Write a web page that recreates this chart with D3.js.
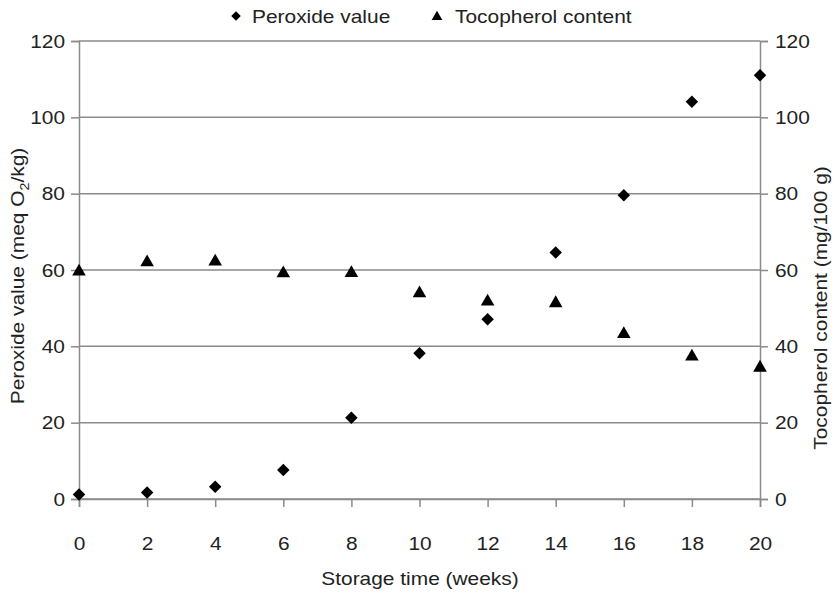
<!DOCTYPE html>
<html>
<head>
<meta charset="utf-8">
<script src="https://cdn.jsdelivr.net/npm/d3@7"></script>
<style>
  html, body { margin: 0; padding: 0; background: #fff; }
  svg { display: block; font-family: "Liberation Sans", Arial, sans-serif; }
</style>
</head>
<body>
<svg id="chart" width="839" height="595"></svg>
<script>
// Storage time in weeks
const weeks = [0, 2, 4, 6, 8, 10, 12, 14, 16, 18, 20];
// Peroxide value (meq O2/kg)
const peroxide = [1.2, 1.7, 3.2, 7.6, 21.3, 38.2, 47.1, 64.6, 79.6, 104.1, 111.0];
// Tocopherol content (mg/100 g)
const tocopherol = [59.6, 62.0, 62.2, 59.1, 59.2, 53.9, 51.7, 51.3, 43.2, 37.3, 34.4];
// Axis ticks
const xTicks = [0, 2, 4, 6, 8, 10, 12, 14, 16, 18, 20];
const yTicks = [0, 20, 40, 60, 80, 100, 120];

const svg = d3.select("#chart");
const plotL = 79, plotR = 760, plotT = 41, plotB = 499;
const textColor = "#222", lineColor = "#8a8a8a", fs = 19;

const x = d3.scaleLinear().domain([0, 20]).range([plotL, plotR]);
const yL = d3.scaleLinear().domain([0, 120]).range([plotB, plotT]);
const yR = d3.scaleLinear().domain([0, 120]).range([plotB, plotT]);

// Horizontal gridlines
svg.append("g").selectAll("line").data(yTicks).join("line")
  .attr("x1", plotL).attr("x2", plotR)
  .attr("y1", d => yL(d)).attr("y2", d => yL(d))
  .attr("stroke", lineColor).attr("stroke-width", 1.5);

function styleAxis(g) {
  g.select(".domain").attr("stroke", lineColor).attr("stroke-width", 1.5);
  g.selectAll(".tick line").attr("stroke", lineColor).attr("stroke-width", 1.5);
  g.selectAll(".tick text").attr("fill", textColor)
    .style("font-size", fs + "px").style("font-family", "Liberation Sans, Arial, sans-serif");
}

svg.append("g").attr("transform", `translate(0,${plotB})`)
  .call(d3.axisBottom(x).tickValues(xTicks).tickSizeOuter(0).tickSize(8).tickPadding(30))
  .call(styleAxis);

svg.append("g").attr("transform", `translate(${plotL},0)`)
  .call(d3.axisLeft(yL).tickValues(yTicks).tickSizeOuter(0).tickSize(8).tickPadding(6))
  .call(styleAxis);

svg.append("g").attr("transform", `translate(${plotR},0)`)
  .call(d3.axisRight(yR).tickValues(yTicks).tickSizeOuter(0).tickSize(8).tickPadding(7))
  .call(styleAxis);

// Markers
const diamond = d3.symbol().type(d3.symbolSquare).size(78);
const triangle = d3.symbol().type(d3.symbolTriangle).size(80);

svg.append("g").selectAll("path").data(weeks.map((w, i) => [w, tocopherol[i]])).join("path")
  .attr("d", triangle)
  .attr("transform", d => `translate(${x(d[0])},${yR(d[1])})`)
  .attr("fill", "#000");

svg.append("g").selectAll("path").data(weeks.map((w, i) => [w, peroxide[i]])).join("path")
  .attr("d", diamond)
  .attr("transform", d => `translate(${x(d[0])},${yL(d[1])}) rotate(45)`)
  .attr("fill", "#000");

// Legend
const legend = svg.append("g");
legend.append("path").attr("d", d3.symbol().type(d3.symbolSquare).size(45))
  .attr("transform", "translate(236,16) rotate(45)").attr("fill", "#000");
legend.append("text").attr("x", 252).attr("y", 23).text("Peroxide value");
legend.append("path").attr("d", d3.symbol().type(d3.symbolTriangle).size(50))
  .attr("transform", "translate(437,17)").attr("fill", "#000");
legend.append("text").attr("x", 455).attr("y", 23).text("Tocopherol content");

// Axis titles
svg.append("text").attr("x", 420).attr("y", 585).attr("text-anchor", "middle")
  .text("Storage time (weeks)");

const lt = svg.append("text")
  .attr("transform", "translate(24,276) rotate(-90)").attr("text-anchor", "middle");
lt.append("tspan").text("Peroxide value (meq O");
lt.append("tspan").attr("dy", 5).style("font-size", "13px").text("2");
lt.append("tspan").attr("dy", -5).text("/kg)");

svg.append("text").attr("transform", "translate(827,308) rotate(-90)")
  .attr("text-anchor", "middle").text("Tocopherol content (mg/100 g)");

svg.selectAll("text").attr("fill", textColor).style("font-size", function() {
  return this.style.fontSize || fs + "px";
});
lt.selectAll("tspan").attr("fill", textColor);

// Slightly widen glyphs to the chart's typeface proportions
svg.selectAll("text").each(function() {
  const w = this.getComputedTextLength();
  if (w > 0) d3.select(this).attr("textLength", w * 1.1).attr("lengthAdjust", "spacingAndGlyphs");
});
</script>
</body>
</html>
